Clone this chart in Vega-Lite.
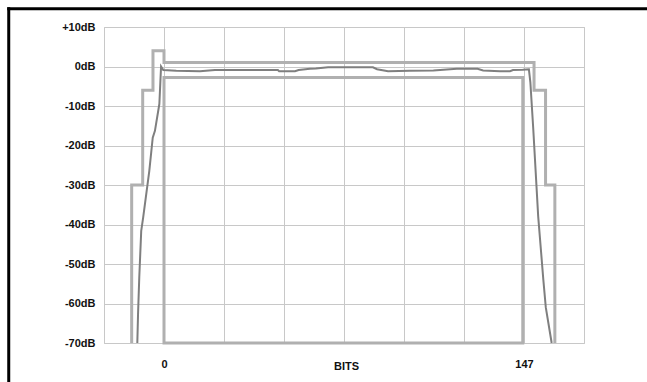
{
  "$schema": "https://vega.github.io/schema/vega-lite/v6.json",
  "width": 480,
  "height": 316,
  "autosize": {"type": "none"},
  "padding": {"left": 104, "top": 27, "right": 63, "bottom": 39},
  "background": "white",
  "config": {
    "view": {"stroke": "#c8c8c8", "strokeWidth": 1},
    "axis": {
      "labelFont": "Liberation Sans",
      "labelFontWeight": "bold",
      "labelFontSize": 11,
      "labelColor": "#111111",
      "labelOverlap": false,
      "gridColor": "#c8c8c8",
      "gridWidth": 1,
      "gridOpacity": 1,
      "domain": false,
      "ticks": false
    }
  },
  "datasets": {
    "upper": [
      {"i": 0, "bits": -13.2, "dB": -70},
      {"i": 1, "bits": -13.2, "dB": -30},
      {"i": 2, "bits": -8.7, "dB": -30},
      {"i": 3, "bits": -8.7, "dB": -6},
      {"i": 4, "bits": -4.5, "dB": -6},
      {"i": 5, "bits": -4.5, "dB": 4},
      {"i": 6, "bits": 0, "dB": 4},
      {"i": 7, "bits": 0, "dB": 1},
      {"i": 8, "bits": 151.1, "dB": 1},
      {"i": 9, "bits": 151.1, "dB": -6},
      {"i": 10, "bits": 155.8, "dB": -6},
      {"i": 11, "bits": 155.8, "dB": -30},
      {"i": 12, "bits": 159.6, "dB": -30},
      {"i": 13, "bits": 159.6, "dB": -70}
    ],
    "lower": [
      {"i": 0, "bits": 0, "dB": -70},
      {"i": 1, "bits": 0, "dB": -2.8},
      {"i": 2, "bits": 146.5, "dB": -2.8},
      {"i": 3, "bits": 146.5, "dB": -70},
      {"i": 4, "bits": 0, "dB": -70}
    ],
    "trace": [
      {"i": 0, "bits": -10.9, "dB": -70},
      {"i": 1, "bits": -10.6, "dB": -62.7},
      {"i": 2, "bits": -10.1, "dB": -53.4},
      {"i": 3, "bits": -9.3, "dB": -41.6},
      {"i": 4, "bits": -8.5, "dB": -38.2},
      {"i": 5, "bits": -6.0, "dB": -26.4},
      {"i": 6, "bits": -4.6, "dB": -18.0},
      {"i": 7, "bits": -3.7, "dB": -16.3},
      {"i": 8, "bits": -1.9, "dB": -9.5},
      {"i": 9, "bits": -1.2, "dB": 0.0},
      {"i": 10, "bits": -0.3, "dB": -0.9},
      {"i": 11, "bits": 5, "dB": -1.1},
      {"i": 12, "bits": 14.7, "dB": -1.2},
      {"i": 13, "bits": 20.8, "dB": -0.9},
      {"i": 14, "bits": 46.5, "dB": -0.9},
      {"i": 15, "bits": 47, "dB": -1.2},
      {"i": 16, "bits": 53.5, "dB": -1.2},
      {"i": 17, "bits": 55, "dB": -0.9},
      {"i": 18, "bits": 59.6, "dB": -0.6},
      {"i": 19, "bits": 62, "dB": -0.5},
      {"i": 20, "bits": 67, "dB": -0.2},
      {"i": 21, "bits": 85.3, "dB": -0.2},
      {"i": 22, "bits": 87, "dB": -0.7},
      {"i": 23, "bits": 91.5, "dB": -1.2},
      {"i": 24, "bits": 100.4, "dB": -1.1},
      {"i": 25, "bits": 110, "dB": -1.0},
      {"i": 26, "bits": 119.6, "dB": -0.6},
      {"i": 27, "bits": 128, "dB": -0.6},
      {"i": 28, "bits": 130.3, "dB": -1.0},
      {"i": 29, "bits": 137.2, "dB": -1.2},
      {"i": 30, "bits": 141.3, "dB": -1.2},
      {"i": 31, "bits": 142.5, "dB": -0.9},
      {"i": 32, "bits": 146.5, "dB": -0.8},
      {"i": 33, "bits": 149.0, "dB": -0.7},
      {"i": 34, "bits": 149.6, "dB": -4},
      {"i": 35, "bits": 150.8, "dB": -16},
      {"i": 36, "bits": 152.8, "dB": -38},
      {"i": 37, "bits": 154.9, "dB": -54},
      {"i": 38, "bits": 155.9, "dB": -61},
      {"i": 39, "bits": 158.3, "dB": -70}
    ]
  },
  "layer": [
    {
      "data": {"name": "upper"},
      "mark": {"type": "line", "color": "#b0b0b0", "strokeWidth": 3, "strokeJoin": "miter", "strokeCap": "butt"},
      "encoding": {
        "x": {
          "field": "bits", "type": "quantitative",
          "scale": {"domain": [-24.5, 171.5], "nice": false, "zero": false},
          "axis": {
            "values": [-24.5, 0, 24.5, 49, 73.5, 98, 122.5, 147, 171.5],
            "tickCount": 30,
            "labelExpr": "datum.value == 0 ? '0' : (datum.value == 147 ? '147' : '')",
            "labelPadding": 15,
            "labelBaseline": "top",
            "title": "BITS",
            "titleFont": "Liberation Sans",
            "titleFontWeight": "bold",
            "titleFontSize": 11,
            "titleColor": "#111111",
            "titleBaseline": "top",
            "titleX": 242,
            "titleY": 17
          }
        },
        "y": {
          "field": "dB", "type": "quantitative",
          "scale": {"domain": [-70, 10], "nice": false, "zero": false},
          "axis": {
            "values": [-70, -60, -50, -40, -30, -20, -10, 0, 10],
            "tickCount": 30,
            "labelExpr": "(datum.value > 0 ? '+' : '') + datum.value + 'dB'",
            "labelPadding": 9,
            "title": null
          }
        },
        "order": {"field": "i", "type": "quantitative"}
      }
    },
    {
      "data": {"name": "lower"},
      "mark": {"type": "line", "color": "#b0b0b0", "strokeWidth": 3, "strokeJoin": "miter", "strokeCap": "square"},
      "encoding": {
        "x": {"field": "bits", "type": "quantitative"},
        "y": {"field": "dB", "type": "quantitative"},
        "order": {"field": "i", "type": "quantitative"}
      }
    },
    {
      "data": {"name": "trace"},
      "mark": {"type": "line", "color": "#7f7f7f", "strokeWidth": 2},
      "encoding": {
        "x": {"field": "bits", "type": "quantitative"},
        "y": {"field": "dB", "type": "quantitative"},
        "order": {"field": "i", "type": "quantitative"}
      }
    },
    {
      "data": {"values": [{}]},
      "mark": {"type": "rule", "color": "#000000", "strokeWidth": 3, "strokeCap": "square"},
      "encoding": {
        "x": {"datum": -63.4, "type": "quantitative"},
        "y": {"datum": 14.6, "type": "quantitative"},
        "y2": {"datum": -100}
      }
    },
    {
      "data": {"values": [{}]},
      "mark": {"type": "rule", "color": "#000000", "strokeWidth": 3, "strokeCap": "square"},
      "encoding": {
        "x": {"datum": -63.4, "type": "quantitative"},
        "x2": {"datum": 240},
        "y": {"datum": 14.6, "type": "quantitative"}
      }
    }
  ]
}
